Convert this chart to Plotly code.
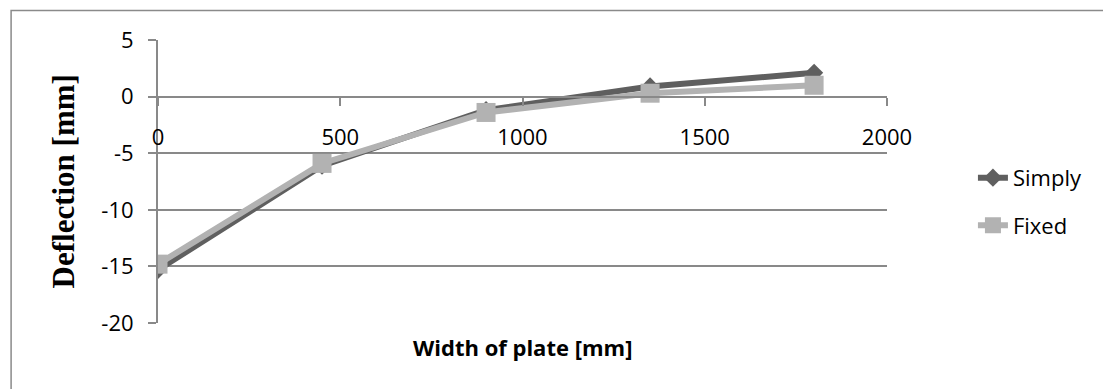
import plotly.graph_objects as go

# Data
widths = [0, 450, 900, 1350, 1800]
simply = [-15.3, -6.1, -1.2, 0.9, 2.1]
fixed = [-14.8, -5.9, -1.4, 0.3, 1.0]
x_ticks = [0, 500, 1000, 1500, 2000]
y_ticks = [5, 0, -5, -10, -15, -20]

W, H = 1103, 389
L, R, T, B = 157.5, 887.0, 40.0, 323.3

def px_x(p):
    return (p - L) / (R - L)

def px_y(p):
    return (B - p) / (B - T)

fig = go.Figure()
fig.add_trace(go.Scatter(
    x=widths, y=simply, name="Simply", mode="lines+markers",
    legendgroup="a",
    line=dict(color="#5f5f5f", width=6),
    marker=dict(symbol="diamond", size=14, color="#5f5f5f"),
))
fig.add_trace(go.Scatter(
    x=widths, y=fixed, name="Fixed", mode="lines+markers",
    legendgroup="b",
    line=dict(color="#b2b2b2", width=6),
    marker=dict(symbol="square", size=19, color="#b2b2b2"),
))

tick_font = dict(family="Open Sans", size=22, color="black")
grid_col = "#898989"

fig.update_layout(
    width=W, height=H,
    margin=dict(l=L, r=W - R, t=T, b=H - B, autoexpand=False),
    paper_bgcolor="white", plot_bgcolor="white",
    showlegend=True,
    legend=dict(
        x=px_x(973), y=px_y(202), xanchor="left", yanchor="middle",
        font=tick_font, tracegroupgap=16, traceorder="grouped",
        bgcolor="rgba(0,0,0,0)",
    ),
    xaxis=dict(
        range=[0, 2000], tickvals=x_ticks, ticktext=[str(v) for v in x_ticks],
        showgrid=False, zeroline=False,
        showline=True, linecolor=grid_col, linewidth=2,
        ticks="outside", ticklen=8, tickcolor=grid_col, tickwidth=2,
        anchor="free", position=0.8,
        tickfont=tick_font, ticklabelstandoff=13,
    ),
    yaxis=dict(
        range=[-20, 5], tickvals=y_ticks, ticktext=[str(v) for v in y_ticks],
        showgrid=True, gridcolor=grid_col, gridwidth=2,
        zeroline=False,
        showline=True, linecolor=grid_col, linewidth=2,
        ticks="outside", ticklen=8, tickcolor=grid_col, tickwidth=2,
        tickfont=tick_font, ticklabelstandoff=10,
    ),
    annotations=[
        dict(text="<b>Deflection [mm]</b>", textangle=-90,
             x=px_x(63), y=px_y(182), xref="paper", yref="paper",
             showarrow=False, xanchor="center", yanchor="middle",
             font=dict(family="Liberation Serif", size=31, color="black")),
        dict(text="<b>Width of plate [mm]</b>",
             x=px_x(522), y=px_y(347), xref="paper", yref="paper",
             showarrow=False, xanchor="center", yanchor="middle",
             font=dict(family="Open Sans", size=22, color="black")),
    ],
    shapes=[
        dict(type="rect", xref="paper", yref="paper",
             x0=px_x(10.5), x1=px_x(1110), y0=px_y(10.5), y1=px_y(395),
             line=dict(color="#8a8a8a", width=1.5), layer="below"),
    ],
)

fig.write_html("out.html")
